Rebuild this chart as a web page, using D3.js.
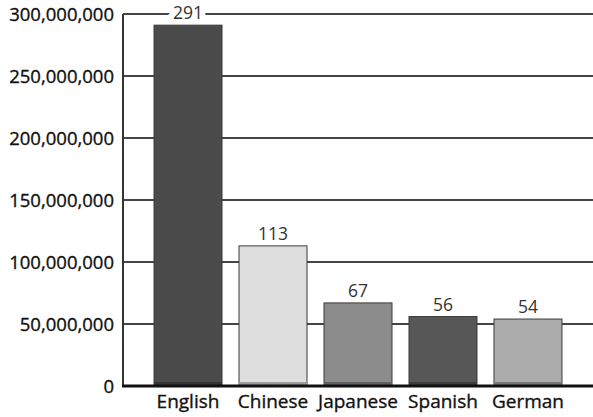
<!DOCTYPE html>
<html lang="en">
<head>
  <meta charset="UTF-8" />
  <title>Languages</title>
  <script src="https://d3js.org/d3.v7.min.js"></script>
  <style>
    body { margin: 0; background: #fff; font-family: "Open Sans", sans-serif; }
    svg { display: block; }
    .grid line { stroke: #454545; stroke-width: 2px; }
    .tick-label { font-size: 18.5px; fill: #111; stroke: #111; stroke-width: 0.35px; text-anchor: end; }
    .cat-label { font-size: 19px; fill: #111; stroke: #111; stroke-width: 0.35px; text-anchor: middle; }
    .val-label { font-size: 17.5px; fill: #333; text-anchor: middle;
                 stroke: #fff; stroke-width: 12px; paint-order: stroke; }
  </style>
</head>
<body>
<svg width="593" height="417"></svg>
<script>
const languages = ["English", "Chinese", "Japanese", "Spanish", "German"];
const speakers = [291, 113, 67, 56, 54]; // millions
const barColors = ["#4b4b4b", "#dedede", "#8c8c8c", "#575757", "#acacac"];
const yTicks = [0, 50000000, 100000000, 150000000, 200000000, 250000000, 300000000];

const svg = d3.select("svg");
const plotLeft = 123, plotRight = 593, plotTop = 14, plotBottom = 386;

const x = d3.scaleBand().domain(languages).range([plotLeft, plotRight])
  .paddingInner(0.2).paddingOuter(0.365);
const y = d3.scaleLinear().domain([0, 300000000]).range([plotBottom, plotTop]);
const fmt = d3.format(",");

// gridlines
svg.append("g").attr("class", "grid")
  .selectAll("line")
  .data(yTicks.slice(1))
  .join("line")
  .attr("x1", plotLeft).attr("x2", plotRight)
  .attr("y1", d => y(d)).attr("y2", d => y(d));

// y axis line
svg.append("line")
  .attr("x1", plotLeft).attr("x2", plotLeft)
  .attr("y1", plotTop).attr("y2", plotBottom)
  .attr("stroke", "#333").attr("stroke-width", 2);

svg.selectAll(".tick-label")
  .data(yTicks)
  .join("text")
  .attr("class", "tick-label")
  .attr("x", 114)
  .attr("y", d => y(d) + 7)
  .text(d => fmt(d));

const data = languages.map((l, i) => ({ lang: l, v: speakers[i] * 1e6, c: barColors[i], n: speakers[i] }));

// value labels first, so their white halo breaks the gridlines but not the bars
svg.selectAll(".val-label")
  .data(data)
  .join("text")
  .attr("class", "val-label")
  .attr("x", d => x(d.lang) + x.bandwidth() / 2)
  .attr("y", d => y(d.v) - 6)
  .text(d => d.n);

// bars
svg.selectAll(".bar")
  .data(data)
  .join("rect")
  .attr("class", "bar")
  .attr("x", d => x(d.lang))
  .attr("width", x.bandwidth())
  .attr("y", d => y(d.v))
  .attr("height", d => plotBottom - y(d.v))
  .attr("fill", d => d.c)
  .attr("stroke", "#3a3a3a")
  .attr("stroke-width", 1);

// darker strip at bar bottoms
svg.selectAll(".strip")
  .data(data)
  .join("rect")
  .attr("class", "strip")
  .attr("x", d => x(d.lang))
  .attr("width", x.bandwidth())
  .attr("y", plotBottom - 4)
  .attr("height", 4)
  .attr("fill", d => d3.color(d.c).darker(1));

// baseline
svg.append("line")
  .attr("x1", plotLeft - 1).attr("x2", plotRight)
  .attr("y1", plotBottom).attr("y2", plotBottom)
  .attr("stroke", "#111").attr("stroke-width", 3);

svg.selectAll(".cat-label")
  .data(data)
  .join("text")
  .attr("class", "cat-label")
  .attr("x", d => x(d.lang) + x.bandwidth() / 2)
  .attr("y", 408)
  .text(d => d.lang);
</script>
</body>
</html>
